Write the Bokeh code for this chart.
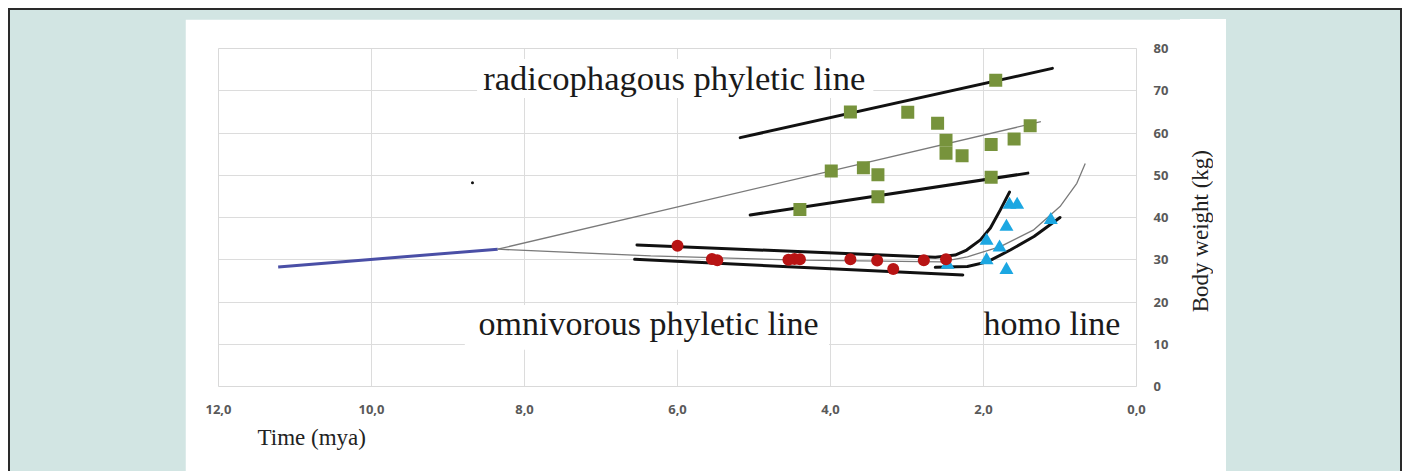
import math
from bokeh.plotting import figure
from bokeh.models import Range1d, FixedTicker, Label, Title, Div
from bokeh.layouts import column, row
from bokeh.embed import file_html
from bokeh.resources import INLINE

# ---------------- data ----------------
x_ticks = [12, 10, 8, 6, 4, 2, 0]
x_tick_labels = ["12,0", "10,0", "8,0", "6,0", "4,0", "2,0", "0,0"]
y_ticks = [0, 10, 20, 30, 40, 50, 60, 70, 80]

# radicophagous species (green squares)
rad_x = [1.84, 3.74, 2.99, 2.60, 1.39, 2.49, 1.60, 1.90, 2.49, 2.28, 3.99, 3.57, 3.38, 1.90, 3.38, 4.40]
rad_y = [72.5, 65.0, 64.9, 62.3, 61.7, 58.3, 58.6, 57.3, 55.2, 54.6, 51.0, 51.8, 50.1, 49.5, 44.9, 41.9]

# omnivorous species (red circles)
omn_x = [6.00, 5.55, 5.48, 4.55, 4.47, 4.40, 3.74, 3.39, 3.18, 2.78, 2.49]
omn_y = [33.3, 30.2, 29.9, 30.0, 30.2, 30.1, 30.1, 29.8, 27.8, 29.9, 30.1]

# homo species (blue triangles)
homo_x = [1.66, 1.56, 1.70, 1.12, 1.96, 1.79, 1.96, 1.70, 2.47]
homo_y = [43.0, 43.0, 37.8, 39.4, 34.5, 32.9, 29.9, 27.6, 28.8]

# trend lines
ancestor_x = [11.22, 8.35]
ancestor_y = [28.3, 32.5]
rad_upper_x = [5.18, 1.10]
rad_upper_y = [58.9, 75.3]
rad_mid_x = [8.35, 1.25]
rad_mid_y = [32.5, 62.7]
rad_lower_x = [5.05, 1.42]
rad_lower_y = [40.6, 50.5]
omn_upper_x = [6.53, 2.63, 2.37, 2.22, 2.04, 1.91, 1.78, 1.66]
omn_upper_y = [33.5, 30.6, 31.1, 32.3, 34.7, 37.5, 41.8, 46.0]
omn_mid_x = [8.35, 6.35, 4.39, 2.56, 2.21, 1.78, 1.35, 1.00, 0.78, 0.67]
omn_mid_y = [32.5, 30.9, 29.9, 29.5, 30.7, 33.1, 37.0, 42.6, 48.1, 52.8]
omn_lower_x = [6.56, 2.27]
omn_lower_y = [30.1, 26.4]
homo_lower_x = [2.63, 2.21, 1.95, 1.65, 1.34, 1.00]
homo_lower_y = [28.2, 28.4, 29.5, 32.3, 35.5, 40.0]

stray_x = [8.68]
stray_y = [48.2]

y_title = "Body weight (kg)"
x_title = "Time (mya)"

# ---------------- figure ----------------
serif = "Liberation Serif"

p = figure(width=995, height=452, x_range=Range1d(12, 0), y_range=Range1d(0, 80),
           y_axis_location="right", output_backend="svg", toolbar_location=None,
           min_border_left=33, min_border_right=44, min_border_top=29, min_border_bottom=85,
           background_fill_color="white", border_fill_color="white")
p.outline_line_color = "#d9d9d9"
p.margin = 0

for ax in (p.xaxis, p.yaxis):
    ax.axis_line_color = None
    ax.major_tick_line_color = None
    ax.minor_tick_line_color = None
    ax.major_label_text_font = "Open Sans"
    ax.major_label_text_font_style = "bold"
    ax.major_label_text_font_size = "13px"
    ax.major_label_text_color = "#595959"

p.xaxis.ticker = FixedTicker(ticks=x_ticks)
p.xaxis.major_label_overrides = {t: l for t, l in zip(x_ticks, x_tick_labels)}
p.xaxis.major_label_standoff = 12
p.yaxis.ticker = FixedTicker(ticks=y_ticks)
p.yaxis.major_label_standoff = 11

p.add_layout(Title(text=x_title, align="left", offset=39, text_font=serif,
                   text_font_size="23px", text_font_style="normal",
                   text_color="#222222", standoff=13), "below")

p.xgrid.ticker = FixedTicker(ticks=x_ticks)
p.ygrid.ticker = FixedTicker(ticks=y_ticks)
p.grid.grid_line_color = "#dcdcdc"
p.grid.grid_line_width = 1

# white boxes behind the captions (hide grid lines there)
p.quad(left=[8.62, 8.78], right=[3.44, 4.02], bottom=[68.3, 8.7], top=[77.5, 19.3],
       fill_color="white", line_color=None)

# lines
thin = dict(line_color="#7a7a7a", line_width=1.3)
thick = dict(line_color="#111111", line_width=3, line_cap="round", line_join="round")
p.line(ancestor_x, ancestor_y, line_color="#4a4fa6", line_width=3)
p.line(rad_mid_x, rad_mid_y, **thin)
p.line(omn_mid_x, omn_mid_y, **thin)
p.line(rad_upper_x, rad_upper_y, **thick)
p.line(rad_lower_x, rad_lower_y, **thick)
p.line(omn_upper_x, omn_upper_y, **thick)
p.line(omn_lower_x, omn_lower_y, **thick)
p.line(homo_lower_x, homo_lower_y, **thick)

# markers
p.scatter(homo_x, homo_y, marker="triangle", size=14, fill_color="#1ca7e2", line_color=None)
p.scatter(rad_x, rad_y, marker="square", size=13, fill_color="#77933c", line_color=None)
p.scatter(omn_x, omn_y, marker="circle", size=12, fill_color="#b81414", line_color=None)
p.scatter(stray_x, stray_y, marker="circle", size=3, fill_color="#111111", line_color=None)

cap = dict(text_font=serif, text_color="#1a1a1a",
           text_baseline="alphabetic", text_align="left")
p.add_layout(Label(x=8.54, y=73.0, text="radicophagous phyletic line",
                   text_font_size="34.6px", **cap))
p.add_layout(Label(x=8.60, y=15.0, text="omnivorous phyletic line",
                   text_font_size="34px", **cap))
p.add_layout(Label(x=2.00, y=15.0, text="homo line", text_font_size="34px", **cap))

# y-axis title panel (white strip to the right of the axis), reads bottom-to-top
ytitle = Div(
    text=('<div style="writing-mode: vertical-rl; transform: rotate(180deg); '
          'margin-top: 131px; margin-left: 8px; line-height: 26px; white-space: nowrap; '
          "font-family: 'Liberation Serif'; font-size: 23px; color: #222222;\">"
          + y_title + '</div>'),
    width=46, height=452, styles={"background-color": "white"})
ytitle.margin = 0

inner = row(p, ytitle, width=1041, height=452, spacing=0)
inner.margin = (9, 0, 0, 175)

layout = column(inner, width=1394, height=463,
                styles={"background-color": "#d2e5e3",
                        "border-left": "2px solid #2a2a2a",
                        "border-right": "2px solid #2a2a2a",
                        "border-top": "2px solid #2a2a2a"})
layout.margin = (8, 0, 0, 8)

open("out.html", "w").write(file_html(layout, INLINE))
